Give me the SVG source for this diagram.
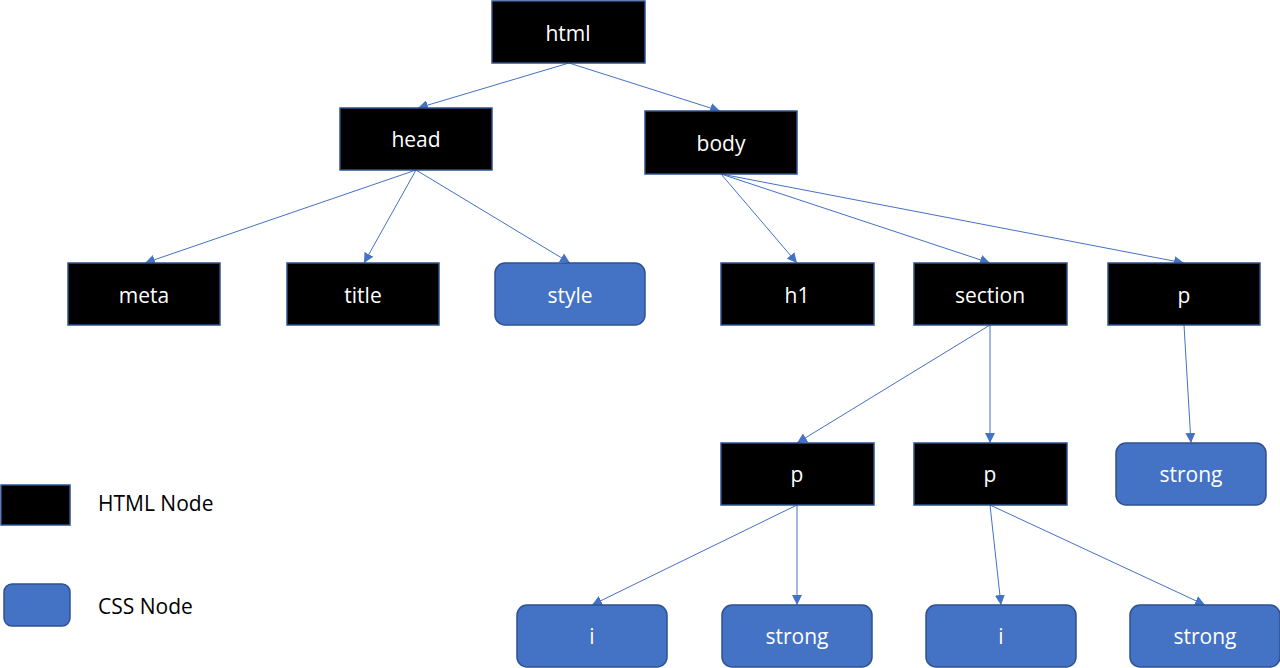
<svg xmlns="http://www.w3.org/2000/svg" width="1280" height="668" viewBox="0 0 1280 668">
<style>
.h{fill:#000;stroke:#2F528F;stroke-width:1.5}
.c{fill:#4472C4;stroke:#2F528F;stroke-width:1.5}
text{font-family:"Open Sans","Liberation Sans",sans-serif;font-size:21px;fill:#fff;text-anchor:middle;dominant-baseline:central}
.l{fill:#000;text-anchor:start}
#edges line{stroke:#4472C4;stroke-width:1;marker-end:url(#a)}
</style>
<defs><marker id="a" viewBox="0 0 10 10" refX="10" refY="5" markerWidth="10" markerHeight="10" markerUnits="userSpaceOnUse" orient="auto"><path d="M0,0L10,5L0,10z" fill="#4472C4"/></marker></defs>
<rect width="1280" height="668" fill="#fff"/>
<g id="edges">
<line x1="569" y1="63" x2="418" y2="108"/>
<line x1="569" y1="63" x2="720" y2="111"/>
<line x1="416" y1="170" x2="145" y2="263"/>
<line x1="416" y1="170" x2="364" y2="263"/>
<line x1="416" y1="170" x2="570" y2="263"/>
<line x1="721" y1="174" x2="797" y2="263"/>
<line x1="721" y1="174" x2="990" y2="263"/>
<line x1="721" y1="174" x2="1184" y2="263"/>
<line x1="990" y1="325" x2="797" y2="443"/>
<line x1="990" y1="325" x2="990" y2="443"/>
<line x1="1184" y1="325" x2="1191" y2="443"/>
<line x1="797" y1="505" x2="592" y2="605"/>
<line x1="797" y1="505" x2="797" y2="605"/>
<line x1="990" y1="505" x2="1001" y2="605"/>
<line x1="990" y1="505" x2="1205" y2="605"/>
</g>
<g id="html"><rect class="h" x="492" y="1" width="153" height="62"/><text x="568" y="33">html</text></g>
<g id="head"><rect class="h" x="340" y="108" width="152" height="62"/><text x="416" y="139">head</text></g>
<g id="body"><rect class="h" x="645" y="111" width="152" height="63"/><text x="721" y="143">body</text></g>
<g id="meta"><rect class="h" x="68" y="263" width="152" height="62"/><text x="144" y="295">meta</text></g>
<g id="title"><rect class="h" x="287" y="263" width="152" height="62"/><text x="363" y="295">title</text></g>
<g id="style"><rect class="c" x="495" y="263" width="150" height="62" rx="10"/><text x="570" y="295">style</text></g>
<g id="h1"><rect class="h" x="721" y="263" width="153" height="62"/><text x="797" y="295">h1</text></g>
<g id="section"><rect class="h" x="914" y="263" width="153" height="62"/><text x="990" y="295">section</text></g>
<g id="p3"><rect class="h" x="1108" y="263" width="152" height="62"/><text x="1184" y="295">p</text></g>
<g id="p1"><rect class="h" x="721" y="443" width="153" height="62"/><text x="797" y="474">p</text></g>
<g id="p2"><rect class="h" x="914" y="443" width="153" height="62"/><text x="990" y="474">p</text></g>
<g id="strong3"><rect class="c" x="1116" y="443" width="150" height="62" rx="10"/><text x="1191" y="474">strong</text></g>
<g id="i1"><rect class="c" x="517" y="605" width="150" height="62" rx="10"/><text x="592" y="636">i</text></g>
<g id="strong1"><rect class="c" x="722" y="605" width="150" height="62" rx="10"/><text x="797" y="636">strong</text></g>
<g id="i2"><rect class="c" x="926" y="605" width="150" height="62" rx="10"/><text x="1001" y="636">i</text></g>
<g id="strong2"><rect class="c" x="1130" y="605" width="150" height="62" rx="10"/><text x="1205" y="636">strong</text></g>
<g id="legend-html"><rect class="h" x="1" y="485" width="69" height="40"/><text class="l" x="98" y="503">HTML Node</text></g>
<g id="legend-css"><rect class="c" x="4" y="584" width="66" height="42" rx="8"/><text class="l" x="98" y="606">CSS Node</text></g>
</svg>
